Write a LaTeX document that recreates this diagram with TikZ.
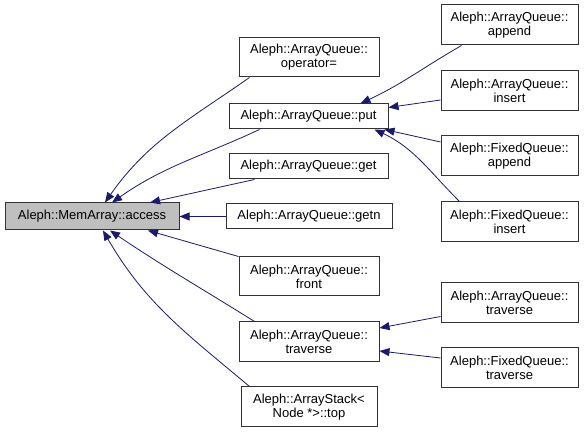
\documentclass[tikz,border=0pt]{standalone}
\usepackage{fontspec}
\setmainfont{Liberation Sans}
\usetikzlibrary{arrows.meta,calc}
\definecolor{edgeblue}{HTML}{191970}
\definecolor{focusgray}{HTML}{BFBFBF}

\begin{document}
\begin{tikzpicture}[x=1pt, y=1pt, >={Triangle[length=10pt,width=8pt]},
    fn/.style={draw=black!80, line width=1pt, rectangle, align=center, inner sep=0pt,
        font=\fontsize{13}{14}\selectfont},
    call/.style={->, edgeblue, line width=0.8pt}]
    \useasboundingbox (0,0) rectangle (587,433);

    % the function whose callers are shown
    \node[fn, fill=focusgray, minimum width=174pt, minimum height=27pt] (access) at (92,216.5) {Aleph::MemArray::access};

    % direct callers
    \node[fn, minimum width=140pt, minimum height=39pt] (opassign) at (309,375.5) {Aleph::ArrayQueue::\\operator=};
    \node[fn, minimum width=159pt, minimum height=25pt] (put) at (308.5,316.5) {Aleph::ArrayQueue::put};
    \node[fn, minimum width=159pt, minimum height=25pt] (get) at (308.5,266.5) {Aleph::ArrayQueue::get};
    \node[fn, minimum width=166pt, minimum height=25pt] (getn) at (309,216.5) {Aleph::ArrayQueue::getn};
    \node[fn, minimum width=140pt, minimum height=39pt] (front) at (309,156.5) {Aleph::ArrayQueue::\\front};
    \node[fn, minimum width=140pt, minimum height=40pt] (traverse) at (309,91) {Aleph::ArrayQueue::\\traverse};
    \node[fn, minimum width=136pt, minimum height=40pt] (stacktop) at (309,26) {Aleph::ArrayStack<\\Node *>::top};

    % second level callers
    \node[fn, minimum width=137pt, minimum height=40pt] (aqappend) at (509.5,408) {Aleph::ArrayQueue::\\append};
    \node[fn, minimum width=137pt, minimum height=40pt] (aqinsert) at (509.5,342) {Aleph::ArrayQueue::\\insert};
    \node[fn, minimum width=137pt, minimum height=40pt] (fqappend) at (509.5,277) {Aleph::FixedQueue::\\append};
    \node[fn, minimum width=137pt, minimum height=40pt] (fqinsert) at (509.5,211) {Aleph::FixedQueue::\\insert};
    \node[fn, minimum width=137pt, minimum height=40pt] (aqtraverse) at (509.5,130.5) {Aleph::ArrayQueue::\\traverse};
    \node[fn, minimum width=137pt, minimum height=40pt] (fqtraverse) at (509.5,65) {Aleph::FixedQueue::\\traverse};

    % calls into access
    \draw[call] ([xshift=11pt]opassign.south west) to[out=215,in=55] ([xshift=13pt]access.north);
    \draw[call] ([xshift=31pt]put.south west) to[out=205,in=35] ([xshift=20pt]access.north);
    \draw[call] ([xshift=26pt]get.south west) -- ([xshift=58pt]access.north);
    \draw[call] (getn) -- (access);
    \draw[call] (front.north west) -- ([xshift=56pt]access.south);
    \draw[call] ([xshift=16pt]traverse.north west) to[out=148,in=-34] ([xshift=18pt]access.south);
    \draw[call] ([xshift=9pt]stacktop.north west) to[out=140,in=-60] ([xshift=11pt]access.south);

    % calls into put
    \draw[call] ([xshift=21pt]aqappend.south west) to[out=210,in=25] ([xshift=52pt]put.north);
    \draw[call] ([yshift=-9pt]aqinsert.west) -- ([yshift=9pt]put.east);
    \draw[call] ([yshift=14pt]fqappend.west) -- ([xshift=-4pt]put.south east);
    \draw[call] ([xshift=19pt]fqinsert.north west) to[out=135,in=-25] ([xshift=66pt]put.south);

    % calls into traverse
    \draw[call] ([yshift=-14pt]aqtraverse.west) -- ([yshift=14pt]traverse.east);
    \draw[call] ([yshift=10pt]fqtraverse.west) -- ([yshift=-9pt]traverse.east);
\end{tikzpicture}
\end{document}
